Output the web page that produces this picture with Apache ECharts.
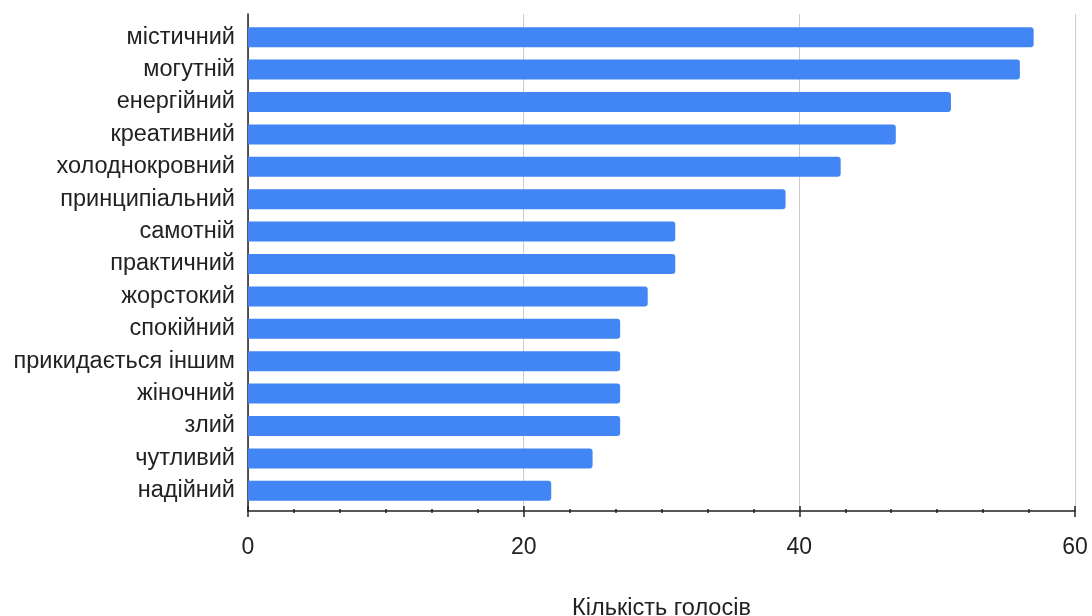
<!DOCTYPE html>
<html>
<head>
<meta charset="utf-8">
<script src="https://cdn.jsdelivr.net/npm/echarts@6/dist/echarts.min.js"></script>
<style>
  html, body { margin: 0; padding: 0; background: #fff; }
  #chart { width: 1092px; height: 616px; }
</style>
</head>
<body>
<div id="chart"></div>
<script>
// Traits and the number of votes each one received
const traits = [
  'містичний', 'могутній', 'енергійний', 'креативний', 'холоднокровний',
  'принципіальний', 'самотній', 'практичний', 'жорстокий', 'спокійний',
  'прикидається іншим', 'жіночний', 'злий', 'чутливий', 'надійний'
];
const votes = [57, 56, 51, 47, 43, 39, 31, 31, 29, 27, 27, 27, 27, 25, 22];
const axisTitle = 'Кількість голосів';
const xMin = 0, xMax = 60, xStep = 20;

const FONT = '"Liberation Sans", Arial, sans-serif';
const TEXT = '#222';
const LINE = '#222';

const chart = echarts.init(document.getElementById('chart'), null, { renderer: 'canvas' });

// fixed plot boxes, no automatic shrinking to fit labels
const box = (top, bottom) => ({
  left: 248, right: 17, top: top, bottom: bottom,
  containLabel: false, outerBoundsMode: 'none'
});

chart.setOption({
  animation: false,
  textStyle: { fontFamily: FONT },
  grid: [
    box(21, 109),   // bars
    box(14, 105),   // frame: value axis, grid lines, outward ticks
    box(14, 105)    // inward half of the crossing ticks
  ],
  xAxis: [
    {
      gridIndex: 0, type: 'value', min: xMin, max: xMax, interval: xStep,
      show: false
    },
    {
      gridIndex: 1, type: 'value', min: xMin, max: xMax, interval: xStep,
      position: 'bottom',
      name: axisTitle, nameLocation: 'middle', nameGap: 86,
      nameTextStyle: { fontFamily: FONT, fontSize: 23.5, color: TEXT },
      axisLine: { show: true, onZero: false, lineStyle: { color: LINE, width: 1.5 } },
      axisTick: { show: true, length: 6, lineStyle: { color: LINE, width: 1.5 } },
      minorTick: { show: true, splitNumber: 6, length: 2, lineStyle: { color: LINE, width: 1.5 } },
      axisLabel: { fontFamily: FONT, fontSize: 23, color: TEXT, margin: 25 },
      splitLine: { show: true, lineStyle: { color: '#cccccc', width: 1 } }
    },
    {
      gridIndex: 2, type: 'value', min: xMin, max: xMax, interval: xStep,
      position: 'bottom',
      axisLine: { show: false, onZero: false },
      axisTick: { show: true, inside: true, length: 5, lineStyle: { color: LINE, width: 1.5 } },
      minorTick: { show: true, splitNumber: 6, length: 2, lineStyle: { color: LINE, width: 1.5 } },
      axisLabel: { show: false },
      splitLine: { show: false }
    }
  ],
  yAxis: [
    {
      gridIndex: 0, type: 'category', data: traits, inverse: true,
      axisLine: { show: false },
      axisTick: { show: false },
      axisLabel: { fontFamily: FONT, fontSize: 23.5, color: TEXT, margin: 13 }
    },
    {
      gridIndex: 1, type: 'value', min: 0, max: 1,
      axisLine: { show: true, onZero: false, lineStyle: { color: LINE, width: 1.5 } },
      axisTick: { show: false },
      axisLabel: { show: false },
      splitLine: { show: false }
    },
    {
      gridIndex: 2, type: 'value', min: 0, max: 1, show: false
    }
  ],
  series: [
    {
      type: 'bar',
      xAxisIndex: 0, yAxisIndex: 0,
      data: votes,
      barWidth: 20,
      itemStyle: { color: '#4285f4', borderRadius: [0, 3, 3, 0] },
      z: 3
    }
  ]
});
</script>
</body>
</html>
